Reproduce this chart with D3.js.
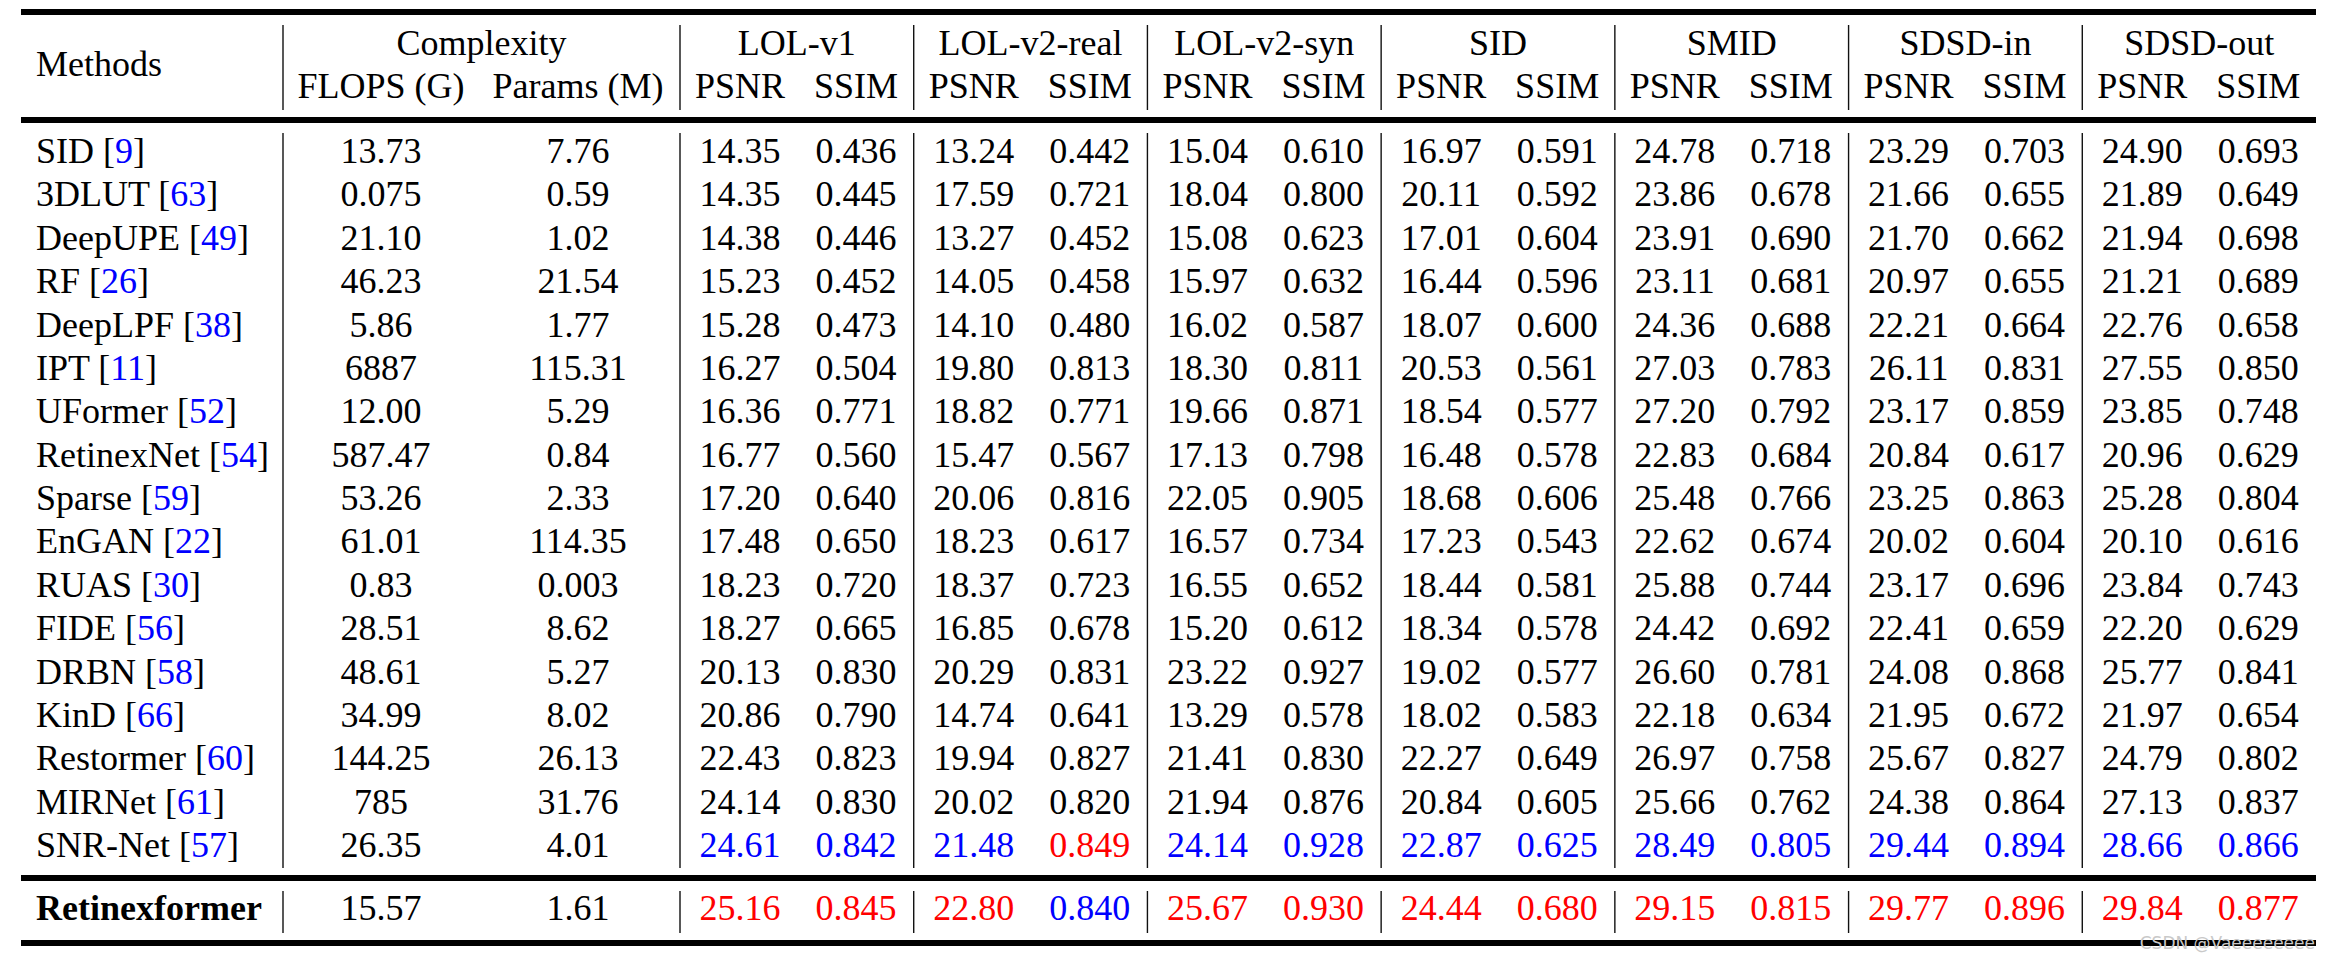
<!DOCTYPE html>
<html>
<head>
<meta charset="utf-8">
<script src="https://cdn.jsdelivr.net/npm/d3@7"></script>
<style>
  html, body { margin: 0; padding: 0; background: #fff; }
  svg { display: block; }
  text { font-family: "Liberation Serif", "Times New Roman", serif; }
</style>
</head>
<body>
<script>
// ---------- data ----------
const methods = ["SID","3DLUT","DeepUPE","RF","DeepLPF","IPT","UFormer","RetinexNet","Sparse","EnGAN","RUAS","FIDE","DRBN","KinD","Restormer","MIRNet","SNR-Net","Retinexformer"];
const refs = ["9","63","49","26","38","11","52","54","59","22","30","56","58","66","60","61","57",null];
const flops = ["13.73","0.075","21.10","46.23","5.86","6887","12.00","587.47","53.26","61.01","0.83","28.51","48.61","34.99","144.25","785","26.35","15.57"];
const params = ["7.76","0.59","1.02","21.54","1.77","115.31","5.29","0.84","2.33","114.35","0.003","8.62","5.27","8.02","26.13","31.76","4.01","1.61"];
const datasets = ["LOL-v1","LOL-v2-real","LOL-v2-syn","SID","SMID","SDSD-in","SDSD-out"];
const metrics = ["PSNR","SSIM"];
// per method: PSNR for each dataset
const psnr = [
  ["14.35","13.24","15.04","16.97","24.78","23.29","24.90"],
  ["14.35","17.59","18.04","20.11","23.86","21.66","21.89"],
  ["14.38","13.27","15.08","17.01","23.91","21.70","21.94"],
  ["15.23","14.05","15.97","16.44","23.11","20.97","21.21"],
  ["15.28","14.10","16.02","18.07","24.36","22.21","22.76"],
  ["16.27","19.80","18.30","20.53","27.03","26.11","27.55"],
  ["16.36","18.82","19.66","18.54","27.20","23.17","23.85"],
  ["16.77","15.47","17.13","16.48","22.83","20.84","20.96"],
  ["17.20","20.06","22.05","18.68","25.48","23.25","25.28"],
  ["17.48","18.23","16.57","17.23","22.62","20.02","20.10"],
  ["18.23","18.37","16.55","18.44","25.88","23.17","23.84"],
  ["18.27","16.85","15.20","18.34","24.42","22.41","22.20"],
  ["20.13","20.29","23.22","19.02","26.60","24.08","25.77"],
  ["20.86","14.74","13.29","18.02","22.18","21.95","21.97"],
  ["22.43","19.94","21.41","22.27","26.97","25.67","24.79"],
  ["24.14","20.02","21.94","20.84","25.66","24.38","27.13"],
  ["24.61","21.48","24.14","22.87","28.49","29.44","28.66"],
  ["25.16","22.80","25.67","24.44","29.15","29.77","29.84"]
];
// per method: SSIM for each dataset
const ssim = [
  ["0.436","0.442","0.610","0.591","0.718","0.703","0.693"],
  ["0.445","0.721","0.800","0.592","0.678","0.655","0.649"],
  ["0.446","0.452","0.623","0.604","0.690","0.662","0.698"],
  ["0.452","0.458","0.632","0.596","0.681","0.655","0.689"],
  ["0.473","0.480","0.587","0.600","0.688","0.664","0.658"],
  ["0.504","0.813","0.811","0.561","0.783","0.831","0.850"],
  ["0.771","0.771","0.871","0.577","0.792","0.859","0.748"],
  ["0.560","0.567","0.798","0.578","0.684","0.617","0.629"],
  ["0.640","0.816","0.905","0.606","0.766","0.863","0.804"],
  ["0.650","0.617","0.734","0.543","0.674","0.604","0.616"],
  ["0.720","0.723","0.652","0.581","0.744","0.696","0.743"],
  ["0.665","0.678","0.612","0.578","0.692","0.659","0.629"],
  ["0.830","0.831","0.927","0.577","0.781","0.868","0.841"],
  ["0.790","0.641","0.578","0.583","0.634","0.672","0.654"],
  ["0.823","0.827","0.830","0.649","0.758","0.827","0.802"],
  ["0.830","0.820","0.876","0.605","0.762","0.864","0.837"],
  ["0.842","0.849","0.928","0.625","0.805","0.894","0.866"],
  ["0.845","0.840","0.930","0.680","0.815","0.896","0.877"]
];
// highlight marks ("r" best, "b" second) per dataset as [PSNR, SSIM]
const snrNetPsnrMarks = ["b","b","b","b","b","b","b"];
const snrNetSsimMarks = ["b","r","b","b","b","b","b"];
const oursPsnrMarks   = ["r","r","r","r","r","r","r"];
const oursSsimMarks   = ["r","b","r","r","r","r","r"];

// ---------- layout ----------
const W = 2331, H = 959;
const FS = 36;
const left = 21, right = 2316;
const markColor = { r: "#ff0000", b: "#0000ff" };
const blue = "#0000ff";

const svg = d3.select("body").append("svg")
  .attr("width", W).attr("height", H)
  .attr("viewBox", `0 0 ${W} ${H}`);
svg.append("rect").attr("width", W).attr("height", H).attr("fill", "#fff");

// group borders: index 0..7 -> left edge of each dataset group (and right edge)
const gx = d3.scaleLinear().domain([0, datasets.length]).range([680, right]);
const subX = d3.scalePoint().domain(metrics).range([60, 176]); // offset inside group
const complexX = d3.scaleOrdinal().domain(["FLOPS (G)", "Params (M)"]).range([381, 578]);
const methodX = 36;
const complexBorder = 283;

const rowY = d3.scaleLinear().domain([0, 16]).range([163, 857]);
const yOf = i => i < 17 ? rowY(i) : 920;

// horizontal rules
const rules = [12, 120, 878, 943];
svg.selectAll("line.rule").data(rules).join("line")
  .attr("class", "rule")
  .attr("x1", left).attr("x2", right)
  .attr("y1", d => d).attr("y2", d => d)
  .attr("stroke", "#000").attr("stroke-width", 6);

// vertical rules
const vx = [complexBorder].concat(d3.range(datasets.length).map(i => gx(i)));
const segs = [[25, 110], [133, 868], [891, 933]];
vx.forEach(x => {
  svg.selectAll(null).data(segs).join("line")
    .attr("x1", x).attr("x2", x)
    .attr("y1", d => d[0]).attr("y2", d => d[1])
    .attr("stroke", "#111").attr("stroke-width", 1.4);
});

const txt = svg.append("g").attr("font-size", FS).attr("fill", "#000");

// header
txt.append("text").attr("x", methodX).attr("y", 76).text("Methods");
txt.append("text").attr("x", (complexBorder + gx(0)) / 2).attr("y", 55)
  .attr("text-anchor", "middle").text("Complexity");
txt.selectAll(null).data(complexX.domain()).join("text")
  .attr("x", d => complexX(d)).attr("y", 98).attr("text-anchor", "middle").text(d => d);
txt.selectAll(null).data(datasets).join("text")
  .attr("x", (d, i) => (gx(i) + gx(i + 1)) / 2).attr("y", 55)
  .attr("text-anchor", "middle").text(d => d);
datasets.forEach((d, i) => {
  txt.selectAll(null).data(metrics).join("text")
    .attr("x", m => gx(i) + subX(m)).attr("y", 98)
    .attr("text-anchor", "middle").text(m => m);
});

// body rows
methods.forEach((m, i) => {
  const y = yOf(i);
  const isOurs = i === methods.length - 1;
  const t = txt.append("text").attr("x", methodX).attr("y", y);
  if (isOurs) {
    t.attr("font-weight", "bold").text(m);
  } else {
    t.append("tspan").text(m + " [");
    t.append("tspan").attr("fill", blue).text(refs[i]);
    t.append("tspan").text("]");
  }
  txt.append("text").attr("x", complexX("FLOPS (G)")).attr("y", y)
    .attr("text-anchor", "middle").text(flops[i]);
  txt.append("text").attr("x", complexX("Params (M)")).attr("y", y)
    .attr("text-anchor", "middle").text(params[i]);

  let pm = null, sm = null;
  if (m === "SNR-Net") { pm = snrNetPsnrMarks; sm = snrNetSsimMarks; }
  if (isOurs) { pm = oursPsnrMarks; sm = oursSsimMarks; }

  const cells = [];
  datasets.forEach((d, j) => {
    cells.push({ x: gx(j) + subX("PSNR"), v: psnr[i][j], c: pm ? markColor[pm[j]] : "#000" });
    cells.push({ x: gx(j) + subX("SSIM"), v: ssim[i][j], c: sm ? markColor[sm[j]] : "#000" });
  });
  txt.selectAll(null).data(cells).join("text")
    .attr("x", d => d.x).attr("y", y)
    .attr("text-anchor", "middle").attr("fill", d => d.c).text(d => d.v);
});

// watermark
svg.append("text")
  .attr("x", 2315).attr("y", 949)
  .attr("text-anchor", "end")
  .attr("font-size", 17)
  .style("font-family", "'DejaVu Sans', sans-serif")
  .attr("fill", "#c9c9c9")
  .text("CSDN @Vaeeeeeeee");
</script>
</body>
</html>
